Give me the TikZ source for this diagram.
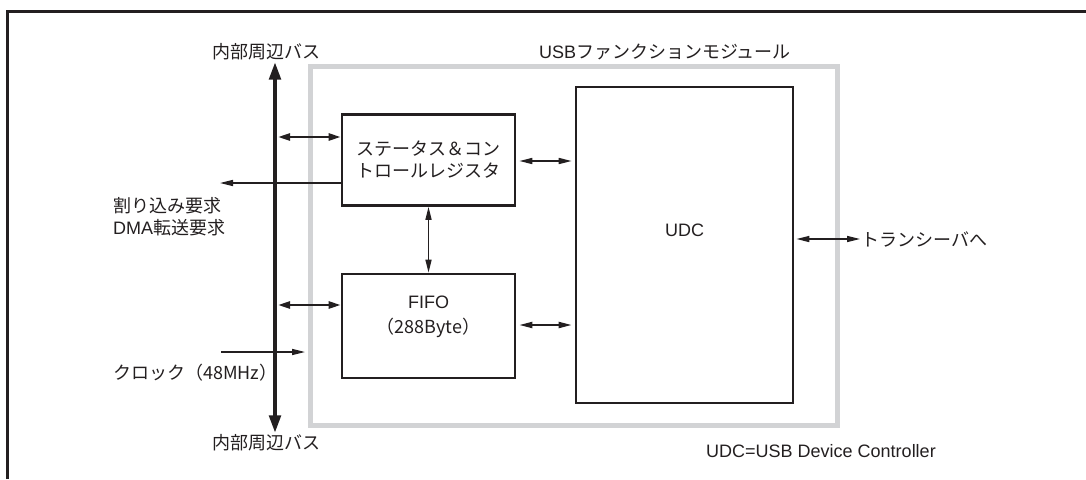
\documentclass[tikz,border=0pt]{standalone}
\usepackage{fontspec}
\setmainfont{Liberation Sans}
\newfontfamily\jp{Noto Sans CJK JP}
\usetikzlibrary{positioning,arrows.meta}
\definecolor{lineclr}{RGB}{35,31,32}
\definecolor{modclr}{RGB}{210,211,213}
\tikzset{
    blk/.style={rectangle,draw=lineclr,line width=2.6pt,inner sep=0pt,font=\fontsize{18}{22}\selectfont,text=lineclr},
    lbl/.style={inner sep=1pt,font=\fontsize{18}{22}\selectfont,text=lineclr},
    busline/.style={{Triangle[length=18pt,width=11pt]}-{Triangle[length=18pt,width=11pt]},line width=4.5pt,draw=lineclr},
    dbl/.style={{Triangle[length=12pt,width=7pt]}-{Triangle[length=12pt,width=7pt]},line width=2.4pt,draw=lineclr},
    sig/.style={-{Triangle[length=13pt,width=6pt]},line width=1.4pt,draw=lineclr},
    sigb/.style={{Triangle[length=13pt,width=6pt]}-{Triangle[length=13pt,width=6pt]},line width=1.4pt,draw=lineclr},
}

\begin{document}
\begin{tikzpicture}[x=1pt,y=-1pt]
\useasboundingbox (0,0) rectangle (1086,479);
% frame
\draw[line width=3pt,lineclr] (7,479) -- (7,11) -- (1086,11);

% module
\node[draw=modclr,line width=5pt,minimum width=527pt,minimum height=359pt] (mod) at (573.5,245.5) {};
\node[lbl] (modl) at (665,52) {USB\jp{ファンクションモジュール}};

% blocks
\node[blk,minimum width=173pt,minimum height=91pt,align=center] (stat) at (428.5,160) {\jp{ステータス＆コン}\\\jp{トロールレジスタ}};
\node[blk,minimum width=173pt,minimum height=104pt] (fifo) at (428.5,326) {};
\node[lbl,align=center] (fifot) at (428.5,317) {FIFO\\[3pt]\jp{（}288Byte\jp{）}};
\node[blk,minimum width=217pt,minimum height=316pt] (udc) at (684.5,245) {};
\node[lbl] (udct) at (684.5,230) {UDC};

% bus
\coordinate (bus) at (275,0);
\node[lbl] (bustopl) at (266,52) {\jp{内部周辺バス}};
\node[lbl] (busbotl) at (266,443) {\jp{内部周辺バス}};
\draw[busline] (bustopl.south -| bus) -- (busbotl.north -| bus);

\draw[dbl] (278,137) -- (stat.west |- 0,137);
\draw[dbl] (278,305) -- (fifo.west |- 0,305);

% signals
\node[lbl,align=left,anchor=west] (irq) at (112,216.5) {\jp{割り込み要求}\\DMA\jp{転送要求}};
\coordinate (irqend) at (220,183);
\draw[sig] (stat.west |- irqend) -- (irqend);

\node[lbl,anchor=west] (clk) at (112,373) {\jp{クロック（}48MHz\jp{）}};
\coordinate (clkin) at (221,352);
\coordinate (clkend) at (305,352);
\draw[sig] (clkin) -- (clkend);

\draw[sigb] (stat.south) -- (fifo.north);
\draw[sigb] ([xshift=3pt]stat.east |- 0,161) -- ([xshift=-3pt]udc.west |- 0,161);
\draw[sigb,line width=1.9pt] ([xshift=3pt]fifo.east |- 0,325) -- ([xshift=-3pt]udc.west |- 0,325);

\node[lbl,anchor=west] (trx) at (860,239) {\jp{トランシーバへ}};
\draw[sigb] ([xshift=2pt]udc.east |- trx) -- (trx.west);

\node[lbl] (note) at (821,451) {UDC=USB Device Controller};
\end{tikzpicture}
\end{document}
